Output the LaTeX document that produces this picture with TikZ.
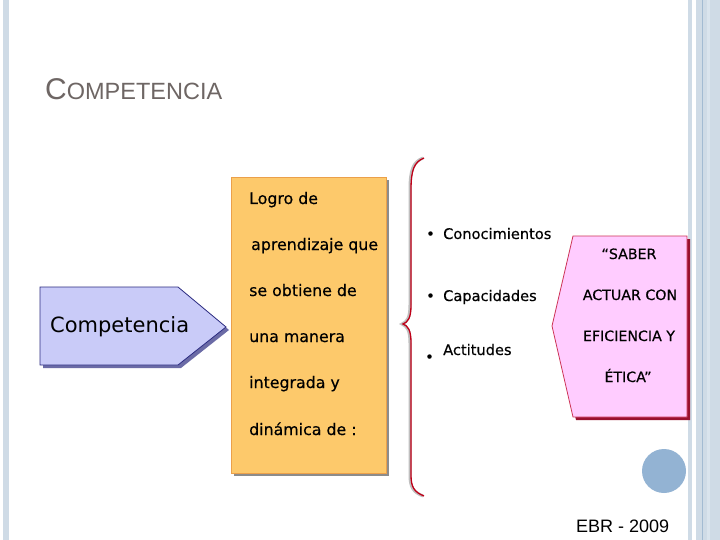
\documentclass[tikz,border=0pt]{standalone}
\usepackage{fontspec}
\setmainfont{DejaVu Sans}
\newfontfamily\arialfont{Liberation Sans}
\newfontfamily\heavyfont[FakeBold=0.4]{DejaVu Sans}
\usetikzlibrary{positioning,calc}
\definecolor{stripeblue}{HTML}{CFDBE6}
\definecolor{stripeline}{HTML}{A3BBD2}
\definecolor{titlegray}{HTML}{6E6664}
\definecolor{lavender}{HTML}{C9CBF8}
\definecolor{navyline}{HTML}{2B2B80}
\definecolor{orangefill}{HTML}{FDC96B}
\definecolor{orangeline}{HTML}{EBA04A}
\definecolor{pinkfill}{HTML}{FFCCFF}
\definecolor{pinkline}{HTML}{CC3355}
\definecolor{pinkshadow}{HTML}{99102F}
\definecolor{bracered}{HTML}{C00018}
\definecolor{dotblue}{HTML}{93B3D3}

\begin{document}
\begin{tikzpicture}[x=1pt,y=-1pt,
    boxtext/.style={anchor=base west,inner sep=0pt,
      font=\heavyfont\fontsize{15.8}{18}\selectfont},
    itemtext/.style={anchor=base west,inner sep=0pt,
      font=\heavyfont\fontsize{14.6}{17}\selectfont},
    quotetext/.style={anchor=base,inner sep=0pt,
      font=\heavyfont\fontsize{14.2}{16}\selectfont}
  ]
  \useasboundingbox (0,0) rectangle (720,540);
  \fill[white] (0,0) rectangle (720,540);
  % slide frame
  \fill[stripeblue] (3,0) rectangle (9,540);
  \fill[stripeblue] (688,0) rectangle (692,540);
  \fill[stripeblue] (696,0) rectangle (720,540);
  \draw[stripeline,line width=0.8pt] (702,0) -- (702,540);
  \fill[stripeline!40] (707,0) rectangle (710,540);

  \node[anchor=base west,inner sep=0pt,text=titlegray] (title) at (45,100)
    {\arialfont\fontsize{30}{30}\selectfont C\fontsize{23.5}{30}\selectfont OMPETENCIA};

  % competencia arrow
  \fill[navyline!70] (43,290) -- (181,290) -- (229,330) -- (181,368) -- (43,368) -- cycle;
  \filldraw[fill=lavender,draw=navyline,line width=0.8pt]
    (40,287) -- (178,287) -- (226,327) -- (178,365) -- (40,365) -- cycle;
  \node[anchor=base west,inner sep=0pt,font=\fontsize{21}{24}\selectfont] (comp)
    at (50,332) {Competencia};

  % logro box
  \fill[black!45] (234,180) rectangle (389,476);
  \filldraw[fill=orangefill,draw=orangeline,line width=0.8pt] (231,177) rectangle (386,473);
  \node[boxtext] (l1) at (249,204) {Logro de};
  \node[boxtext] (l2) at (251,250) {aprendizaje que};
  \node[boxtext] (l3) at (249,296) {se obtiene de};
  \node[boxtext] (l4) at (249,342) {una manera};
  \node[boxtext] (l5) at (249,388) {integrada y};
  \node[boxtext] (l6) at (249,435) {dinámica de :};

  % brace
  \draw[black!25,line width=3pt]
    (423,158) .. controls (413,162) and (410,170) .. (410,190) -- (410,305)
    .. controls (410,318) and (407,322) .. (402,324)
    .. controls (407,326) and (410,330) .. (410,343) -- (410,475)
    .. controls (410,487) and (413,492) .. (423,496);
  \draw[bracered,line width=1.3pt]
    (424,158) .. controls (414,162) and (411,170) .. (411,190) -- (411,305)
    .. controls (411,318) and (408,322) .. (403,324)
    .. controls (408,326) and (411,330) .. (411,343) -- (411,475)
    .. controls (411,487) and (414,492) .. (424,496);

  \node[itemtext] (b1) at (426,239) {•};
  \node[itemtext] (k1) at (443,239) {Conocimientos};
  \node[itemtext] (b2) at (426,301) {•};
  \node[itemtext] (k2) at (443,301) {Capacidades};
  \node[itemtext] (b3) at (425,362) {•};
  \node[itemtext] (k3) at (443,355) {Actitudes};

  % saber box
  \fill[pinkshadow] (576,239) -- (690,239) -- (690,420) -- (576,420) -- (555,329) -- cycle;
  \filldraw[fill=pinkfill,draw=pinkline,line width=0.8pt]
    (573,236) -- (687,236) -- (687,417) -- (573,417) -- (552,326) -- cycle;
  \node[quotetext] (s1) at (629,259) {“SABER};
  \node[quotetext] (s2) at (630,300) {ACTUAR CON};
  \node[quotetext] (s3) at (629,341) {EFICIENCIA Y};
  \node[quotetext] (s4) at (628,382) {ÉTICA”};

  \fill[dotblue] (664,471) circle (22);
  \node[anchor=base west,inner sep=0pt] (foot) at (576,532)
    {\arialfont\fontsize{18}{20}\selectfont EBR - 2009};
\end{tikzpicture}
\end{document}
